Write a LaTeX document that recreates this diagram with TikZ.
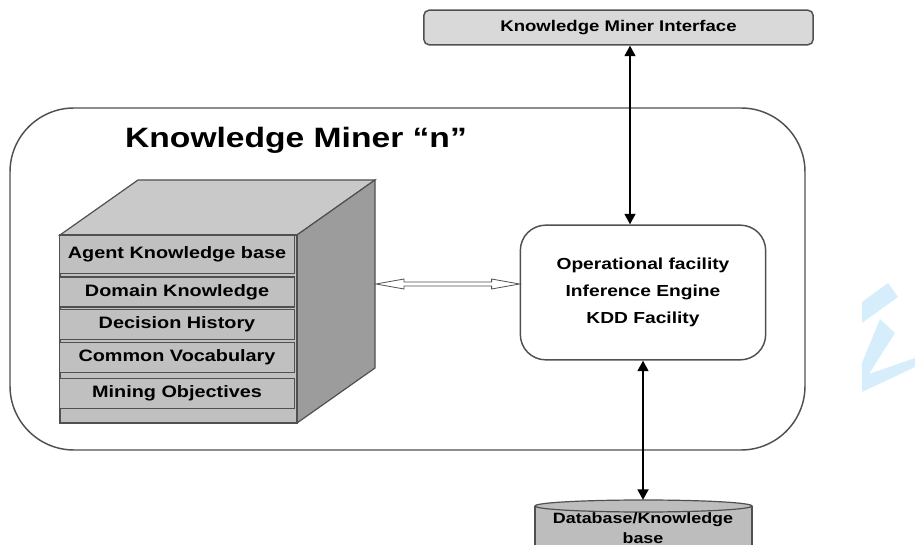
\documentclass[tikz,border=0pt]{standalone}
\usepackage{fontspec}
\setmainfont{Liberation Sans}[FakeStretch=1.2]
\usepackage{tikz}
\usetikzlibrary{arrows.meta,positioning,shapes.geometric,calc}
\definecolor{framegray}{HTML}{505050}
\definecolor{barfill}{HTML}{C0C0C0}
\definecolor{topfill}{HTML}{C9C9C9}
\definecolor{sidefill}{HTML}{9C9C9C}
\definecolor{boxfill}{HTML}{D9D9D9}
\definecolor{dbfill}{HTML}{BDBDBD}
\definecolor{markblue}{HTML}{D6EEFB}

\begin{document}
\begin{tikzpicture}[x=0.75pt, y=-0.75pt,
    kbbar/.style={draw=framegray, fill=barfill, line width=0.9pt, minimum width=176pt, inner sep=0pt, font=\fontsize{12.4}{14}\selectfont\bfseries},
    bigarrow/.style={{Triangle[length=8pt,width=8pt]}-{Triangle[length=8pt,width=8pt]}, line width=2.2pt, black},
    hollowarrow/.style={draw=framegray, fill=white, line width=0.6pt}]
    \useasboundingbox (0,0) rectangle (915,545);
    \clip (0,0) rectangle (915,545);

    % Outer frame of the miner
    \draw[framegray, line width=1.1pt, rounded corners=48pt] (10,108) rectangle (805,450);
    \node[anchor=base, font=\fontsize{21}{25}\selectfont\bfseries] (title) at (296,148) {Knowledge Miner “n”};

    % Interface box on top
    \node[draw=framegray, fill=boxfill, line width=1.1pt, rounded corners=4pt, minimum width=292pt, minimum height=26pt, inner sep=0pt, font=\fontsize{11.6}{13}\selectfont\bfseries] (mif) at (618.5,27.5) {Knowledge Miner Interface};

    % Knowledge base cube
    \fill[topfill, draw=framegray, line width=0.9pt] (60,235) -- (138,180) -- (375,180) -- (297,235) -- cycle;
    \fill[sidefill, draw=framegray, line width=0.9pt] (297,235) -- (375,180) -- (375,368) -- (297,423) -- cycle;
    \fill[barfill, draw=framegray, line width=0.9pt] (60,235) rectangle (297,423);
    \coordinate (kbright) at (376,284);

    % Knowledge base contents
    \node[kbbar, minimum height=29pt] (agent) at (177,254.5) {Agent Knowledge base};
    \node[kbbar, minimum height=22.5pt] (domain) at (177,292) {Domain Knowledge};
    \node[kbbar, minimum height=22pt] (decision) at (177,324.5) {Decision History};
    \node[kbbar, minimum height=22pt] (vocab) at (177,357.5) {Common Vocabulary};
    \node[kbbar, minimum height=22pt] (mining) at (177,393.5) {Mining Objectives};

    % Operational box
    \node[draw=framegray, fill=white, line width=1.1pt, rounded corners=19pt, minimum width=184pt, minimum height=101pt, align=center, font=\fontsize{12}{20}\selectfont\bfseries] (ops) at (643,292.5) {Operational facility\\Inference Engine\\KDD Facility};

    % Database cylinder
    \fill[dbfill, draw=framegray, line width=0.9pt] (535,506) -- (535,570) -- (752,570) -- (752,506);
    \fill[dbfill, draw=framegray, line width=0.9pt] (643.5,506) ellipse [x radius=108.5, y radius=6];
    \coordinate (dbtop) at (643,500);
    \node[align=center, inner sep=0pt, font=\fontsize{11.2}{15}\selectfont\bfseries] (db) at (643,528.5) {Database/Knowledge\\base};

    % Connectors
    \coordinate (tx) at (630,0);
    \draw[bigarrow] (mif.south -| tx) -- (ops.north -| tx);
    \draw[bigarrow] (ops.south) -- (dbtop);
    \coordinate (opsend) at (ops.west |- kbright);
    \draw[hollowarrow] (kbright) -- ++(28,-5) -- ++(0,3) -- ($(opsend)+(-28,-2)$) -- ++(0,-3)
        -- (opsend) -- ++(-28,5) -- ++(0,-3) -- ($(kbright)+(28,2)$) -- ++(0,3) -- cycle;

    % Watermark fragment
    \fill[markblue] (888,283) -- (898,297) -- (862,323) -- (862,302) -- cycle;
    \fill[markblue] (880,319) -- (895,333) -- (869,374) -- (915,358) -- (915,367) -- (862,392) -- (862,363) -- cycle;
\end{tikzpicture}
\end{document}
